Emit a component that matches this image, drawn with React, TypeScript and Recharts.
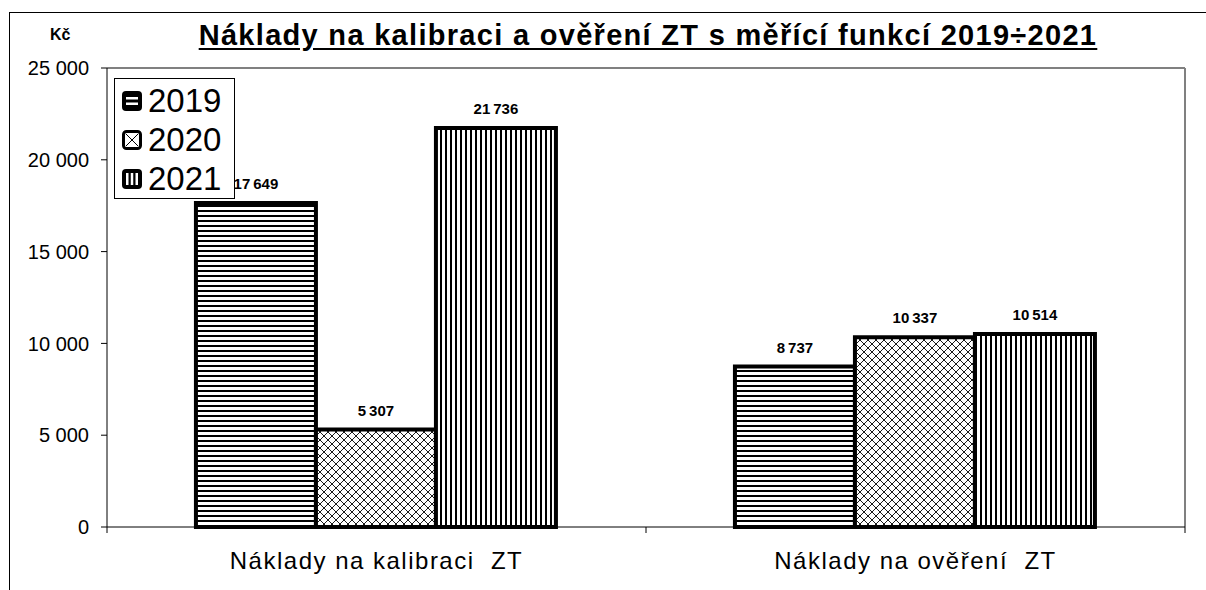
import React from "react";
import { BarChart, Bar, XAxis, YAxis, LabelList, usePlotArea } from "recharts";

const categories = ["Náklady na kalibraci\u00a0 ZT", "Náklady na ověření\u00a0 ZT"];
const years = ["2019", "2020", "2021"];
const values2019 = [17649, 8737];
const values2020 = [5307, 10337];
const values2021 = [21736, 10514];
const yTicks = [0, 5000, 10000, 15000, 20000, 25000];

const data = categories.map((name, i) => ({
  name,
  y2019: values2019[i],
  y2020: values2020[i],
  y2021: values2021[i],
}));

const fills = ["url(#hstripe)", "url(#xhatch)", "url(#vstripe)"];
const keys = ["y2019", "y2020", "y2021"];

const FONT = "Arial, 'Liberation Sans', sans-serif";

const fmt = (v: number) => String(v).replace(/\B(?=(\d{3})+(?!\d))/g, " ");
const fmtNarrow = (v: number) => String(v).replace(/\B(?=(\d{3})+(?!\d))/g, "\u202f");

const Patterns = () => (
  <svg width={0} height={0} style={{ position: "absolute" }}>
    <defs>
      <pattern id="hstripe" patternUnits="userSpaceOnUse" width={5} height={5}>
        <rect width={5} height={5} fill="#fff" />
        <rect width={5} height={2} fill="#000" />
      </pattern>
      <pattern id="vstripe" patternUnits="userSpaceOnUse" width={5} height={5}>
        <rect width={5} height={5} fill="#fff" />
        <rect width={2} height={5} fill="#000" />
      </pattern>
      <pattern id="xhatch" patternUnits="userSpaceOnUse" width={8} height={8}>
        <rect width={8} height={8} fill="#fff" />
        <path d="M0,0 L8,8 M8,0 L0,8" stroke="#000" strokeWidth={0.9} />
      </pattern>
    </defs>
  </svg>
);

const LegendIcon = ({ idx }: { idx: number }) => (
  <svg width={20} height={20} style={{ marginRight: 6 }}>
    {idx === 1 ? (
      <g>
        <rect x={1.5} y={1.5} width={17} height={17} rx={3} fill="#fff" stroke="#000" strokeWidth={3} />
        <path d="M4,4 L16,16 M16,4 L4,16" stroke="#000" strokeWidth={1} />
      </g>
    ) : (
      <g>
        <rect x={0} y={0} width={20} height={20} rx={4} fill="#000" />
        {idx === 0 ? (
          <g fill="#fff">
            <rect x={4} y={6} width={12} height={2.5} />
            <rect x={4} y={11.5} width={12} height={2.5} />
          </g>
        ) : (
          <g fill="#fff">
            <rect x={4} y={4} width={2.5} height={12} />
            <rect x={8.75} y={4} width={2.5} height={12} />
            <rect x={13.5} y={4} width={2.5} height={12} />
          </g>
        )}
      </g>
    )}
  </svg>
);

const LegendBox = () => (
  <div
    style={{
      position: "absolute",
      left: 114,
      top: 78,
      width: 121,
      height: 121,
      border: "1px solid #000",
      background: "#fff",
      boxSizing: "border-box",
      padding: "2px 0 0 7px",
      fontFamily: FONT,
    }}
  >
    {years.map((y, i) => (
      <div key={y} style={{ display: "flex", alignItems: "center", height: 39, fontSize: 33, lineHeight: "39px" }}>
        <LegendIcon idx={i} />
        <span>{y}</span>
      </div>
    ))}
  </div>
);

const Frame = () => {
  const p = usePlotArea();
  if (!p) return null;
  const bottom = p.y + p.height;
  const n = categories.length;
  return (
    <g>
      <line x1={p.x} y1={p.y} x2={p.x + p.width} y2={p.y} stroke="#808080" strokeWidth={2} />
      <line x1={p.x + p.width} y1={p.y} x2={p.x + p.width} y2={bottom} stroke="#808080" strokeWidth={2} />
      {Array.from({ length: n + 1 }, (_, i) => {
        const x = p.x + (p.width * i) / n;
        return <line key={i} x1={x} y1={bottom} x2={x} y2={bottom + 6} stroke="#000" strokeWidth={1} />;
      })}
    </g>
  );
};

export default function App() {
  return (
    <div style={{ position: "absolute", left: 0, top: 0, width: 1206, height: 590, background: "#fff", overflow: "hidden" }}>
      <Patterns />
      <div
        style={{
          position: "absolute",
          left: 9,
          top: 12,
          width: 1206,
          height: 600,
          borderLeft: "1px solid #000",
          borderTop: "1px solid #000",
        }}
      />
      <div
        style={{
          position: "absolute",
          left: 0,
          width: 1206,
          top: 19,
          textAlign: "center",
          paddingLeft: 90,
          boxSizing: "border-box",
          fontFamily: FONT,
          fontWeight: "bold",
          fontSize: 29,
          letterSpacing: 1.3,
          textDecoration: "underline",
          textUnderlineOffset: 3,
        }}
      >
        Náklady na kalibraci a ověření ZT s měřící funkcí 2019÷2021
      </div>
      <div
        style={{
          position: "absolute",
          left: 50,
          top: 26,
          fontFamily: FONT,
          fontWeight: "bold",
          fontSize: 16,
        }}
      >
        Kč
      </div>
      <div style={{ position: "absolute", left: 0, top: 0 }}>
        <BarChart
          width={1206}
          height={590}
          data={data}
          margin={{ top: 68, right: 21, bottom: 0, left: 0 }}
          barCategoryGap="16.5%"
          barGap={0}
        >
          <XAxis
            dataKey="name"
            height={63}
            axisLine={{ stroke: "#000", strokeWidth: 1 }}
            tickLine={false}
            tickMargin={19}
            tick={{ fill: "#000", fontSize: 24, fontFamily: FONT, letterSpacing: 1.5 }}
          />
          <YAxis
            width={107}
            domain={[0, 25000]}
            ticks={yTicks}
            interval={0}
            tickFormatter={fmt}
            axisLine={{ stroke: "#000", strokeWidth: 1 }}
            tickLine={{ stroke: "#000", strokeWidth: 1 }}
            tickSize={6}
            tickMargin={12}
            tick={{ fill: "#000", fontSize: 20, fontFamily: FONT }}
          />
          {keys.map((k, i) => (
            <Bar key={k} dataKey={k} name={years[i]} fill={fills[i]} stroke="#000" strokeWidth={4} isAnimationActive={false}>
              <LabelList
                dataKey={k}
                position="top"
                offset={14}
                formatter={(v: any) => fmtNarrow(Number(v))}
                style={{ fill: "#000", fontWeight: "bold", fontSize: 15, fontFamily: FONT }}
              />
            </Bar>
          ))}
          <Frame />
        </BarChart>
      </div>
      <LegendBox />
    </div>
  );
}
